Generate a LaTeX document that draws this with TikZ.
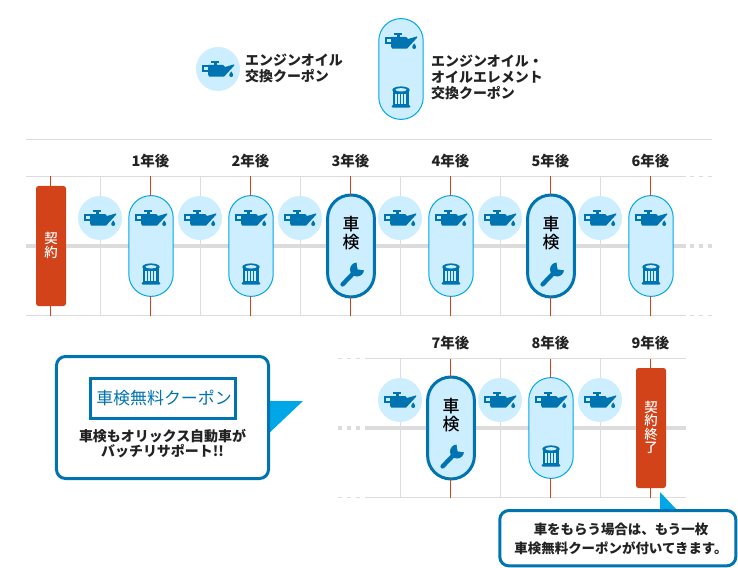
\documentclass[tikz,border=0pt]{standalone}
\usepackage{fontspec}
\setmainfont{Noto Sans CJK JP}
\newfontfamily\medfont{Noto Sans CJK JP Medium}
\definecolor{dkblue}{HTML}{0073B1}
\definecolor{ltblue}{HTML}{CCEEFF}
\definecolor{cyanb}{HTML}{00A7E8}
\definecolor{redb}{HTML}{D2431A}
\definecolor{grayl}{HTML}{DCDCDC}
\definecolor{inkc}{HTML}{222222}
\tikzset{
  gridline/.style={draw=grayl,line width=1bp},
  barline/.style={draw=grayl,line width=3.6bp},
  redline/.style={draw=redb,line width=1bp},
  oilcircle/.style={circle,fill=ltblue,minimum size=44bp,inner sep=0pt,outer sep=0pt},
  capsule/.style={rectangle,draw=cyanb,fill=ltblue,line width=1bp,minimum width=44.4bp,minimum height=100.8bp,rounded corners=22.2bp,inner sep=0pt,outer sep=0pt},
  inspect/.style={rectangle,draw=dkblue,fill=ltblue,line width=3bp,minimum width=46.8bp,minimum height=102bp,rounded corners=23.4bp,inner sep=0pt,outer sep=0pt},
  redbox/.style={rectangle,fill=redb,rounded corners=2.5bp,minimum width=30bp,minimum height=120bp,inner sep=0pt,outer sep=0pt},
  yearlabel/.style={text=inkc,font=\fontsize{14.5}{16}\selectfont\bfseries,inner sep=0pt},
  legendtext/.style={text=inkc,font=\fontsize{14}{16}\selectfont\bfseries,inner sep=0pt,align=left,anchor=west},
  calltext/.style={text=inkc,font=\fontsize{14}{15.4}\selectfont\bfseries,inner sep=0pt,align=center},
  noticetext/.style={text=inkc,font=\fontsize{13.5}{19}\selectfont\bfseries,inner sep=0pt},
  callout/.style={rectangle,draw=dkblue,fill=white,line width=3bp,rounded corners=9bp,inner sep=0pt,outer sep=0pt},
  inspecttext/.style={text=black,font=\fontsize{17}{19}\medfont,inner sep=0pt},
  whitetext/.style={text=white,font=\fontsize{13.5}{13.6}\medfont,inner sep=0pt},
  pics/oilcan/.style={code={
    \fill[dkblue] (-16,-3.8) rectangle (-9,2.6);
    \fill[ltblue] (-13.8,-1.6) rectangle (-10,0.6);
    \fill[dkblue] (-4.2,-7) rectangle (-1,-3);
    \fill[dkblue] (-7.3,-8.3) rectangle (1,-6.2);
    \fill[dkblue] (-10,-4) -- (5,-4) -- (7,-2) -- (16,-4.6) -- (16,-3.2) -- (6,7.7) -- (-8.8,7.7) -- (-10,5.5) -- cycle;
    \fill[dkblue] (13.2,2.4) .. controls (13.8,3.8) and (15.2,4.6) .. (15.2,6) .. controls (15.2,8.6) and (11.2,8.6) .. (11.2,6) .. controls (11.2,4.6) and (12.6,3.8) .. (13.2,2.4) -- cycle;
  }},
  pics/oilfilter/.style={code={
    \fill[dkblue] (-7.6,-7) rectangle (7.6,8);
    \foreach \s in {-5.6,-2.6,0.4,3.4}{\fill[ltblue] (\s,-3) rectangle (\s+1.7,7.4);}
    \fill[dkblue] (0,-7) ellipse [x radius=8.7,y radius=3.6];
    \fill[ltblue] (0,-7.2) ellipse [x radius=5.6,y radius=1.7];
    \fill[dkblue,rounded corners=1.2bp] (-9.4,8) rectangle (9.4,10.6);
  }},
  pics/spanner/.style={code={
    \draw[dkblue,line width=4.4bp,line cap=round] (-8.4,10.4) -- (3.5,-2);
    \fill[dkblue] (6,-4.5) circle [radius=7];
    \fill[ltblue] (6.6,-4.6) -- (5.4,-13) -- (15,-13) -- (15,-3.6) -- cycle;
  }}
}
\begin{document}
\begin{tikzpicture}[x=1bp,y=-1bp]
\useasboundingbox (0,0) rectangle (738,568);
% legend
\node[oilcircle] (legcirc) at (218,69) {};
\pic at (218,69) {oilcan};
\node[legendtext] (legtext1) at (245,68) {エンジンオイル\\交換クーポン};
\node[capsule] (legcap) at (401,69) {};
\pic at (401,41) {oilcan};
\pic at (401,97) {oilfilter};
\node[legendtext] (legtext2) at (431,77) {エンジンオイル・\\オイルエレメント\\交換クーポン};
% row 1 grid
\draw[gridline] (26,139.5) -- (712,139.5);
\foreach \y in {176.5,315.5}{
  \draw[gridline] (26,\y) -- (686,\y);
  \foreach \a in {690,699,708}{\draw[gridline] (\a,\y) -- (\a+4,\y);}
}
\draw[barline] (26,246) -- (686,246);
\foreach \a in {690,699,708}{\draw[barline] (\a,246) -- (\a+4,246);}
\foreach \x in {100.5,200.5,300.5,400.5,500.5,600.5}{\draw[gridline] (\x,176.5) -- (\x,315.5);}
% row 2 grid
\foreach \y in {358.5,497.5}{
  \draw[gridline] (365,\y) -- (686,\y);
  \foreach \a in {338,347,356}{\draw[gridline] (\a,\y) -- (\a+4,\y);}
}
\draw[barline] (365,428) -- (686,428);
\foreach \a in {338,347,356}{\draw[barline] (\a,428) -- (\a+4,428);}
\foreach \x in {400.5,500.5,600.5}{\draw[gridline] (\x,358.5) -- (\x,497.5);}
% row 1 circles
\foreach \n/\x in {a/100,b/200,c/300,d/400,e/500,f/600}{
  \node[oilcircle] (circ\n) at (\x,218) {};
  \pic at (\x,218) {oilcan};
}
% row 2 circles
\foreach \n/\x in {g/400,h/500,i/600}{
  \node[oilcircle] (circ\n) at (\x,400) {};
  \pic at (\x,400) {oilcan};
}
% year labels
\foreach \n/\x/\t in {1/150.5/1年後,2/250.5/2年後,3/350.5/3年後,4/450.5/4年後,5/550.5/5年後,6/650.5/6年後}{
  \node[yearlabel] (year\n) at (\x,161) {\t};
}
\foreach \n/\x/\t in {7/450.5/7年後,8/550.5/8年後,9/650.5/9年後}{
  \node[yearlabel] (year\n) at (\x,343) {\t};
}
% contract
\node[redbox] (start) at (51,246) {};
\node[whitetext,align=center] (starttext) at (51,245.5) {契\\約};
\node[redbox] (finish) at (651,428) {};
\node[whitetext,align=center] (finishtext) at (651,427.5) {契\\約\\終\\了};
\coordinate (t0) at (50.5,176.5); \coordinate (b0) at (50.5,315.5);
\draw[redline] (t0) -- (t0 |- start.north);
\draw[redline] (b0) -- (b0 |- start.south);
\coordinate (t9) at (650.5,358.5); \coordinate (b9) at (650.5,497.5);
\draw[redline] (t9) -- (t9 |- finish.north);
\draw[redline] (b9) -- (b9 |- finish.south);
% row 1 capsules
\foreach \n/\x/\l in {1/150.5/151,2/250.5/251,4/450.5/451,6/650.5/651}{
  \node[capsule] (cap\n) at (\l,246) {};
  \pic at (\l,218) {oilcan};
  \pic at (\l,274) {oilfilter};
  \coordinate (t\n) at (\x,176.5); \coordinate (b\n) at (\x,315.5);
  \draw[redline] (t\n) -- (t\n |- cap\n.north);
  \draw[redline] (b\n) -- (b\n |- cap\n.south);
}
\foreach \n/\x/\l in {3/350.5/351,5/550.5/551}{
  \node[inspect] (cap\n) at (\l,246) {};
  \node[inspecttext] (capt\n) at (\l,224) {車};
  \node[inspecttext] (capu\n) at (\l,242.5) {検};
  \pic at (\l,274) {spanner};
  \coordinate (t\n) at (\x,176.5); \coordinate (b\n) at (\x,315.5);
  \draw[redline] (t\n) -- (t\n |- cap\n.north);
  \draw[redline] (b\n) -- (b\n |- cap\n.south);
}
% row 2 capsules
\node[inspect] (cap7) at (451,428) {};
\node[inspecttext] (capt7) at (451,406) {車};
\node[inspecttext] (capu7) at (451,424.5) {検};
\pic at (451,456) {spanner};
\coordinate (t7) at (450.5,358.5); \coordinate (b7) at (450.5,497.5);
\draw[redline] (t7) -- (t7 |- cap7.north);
\draw[redline] (b7) -- (b7 |- cap7.south);
\node[capsule] (cap8) at (551,428) {};
\pic at (551,400) {oilcan};
\pic at (551,456) {oilfilter};
\coordinate (t8) at (550.5,358.5); \coordinate (b8) at (550.5,497.5);
\draw[redline] (t8) -- (t8 |- cap8.north);
\draw[redline] (b8) -- (b8 |- cap8.south);
% left callout
\fill[cyanb] (265,401) -- (303,401) -- (265,437) -- cycle;
\node[callout,minimum width=212bp,minimum height=122bp] (note) at (162.5,417.5) {};
\node[rectangle,draw=dkblue,line width=2.5bp,minimum width=145bp,minimum height=40bp,inner sep=0pt,outer sep=0pt] (logo) at (163,398.5) {};
\node[text=dkblue,font=\fontsize{17}{17}\selectfont,inner sep=0pt] (logotext) at (164,398.5) {車検無料クーポン};
\node[calltext] (notetext) at (162.5,443.5) {車検もオリックス自動車が\\バッチリサポート!!};
% bottom callout
\fill[cyanb] (660,492) -- (676,509) -- (660,511) -- cycle;
\node[callout,minimum width=236bp,minimum height=55.3bp] (notice) at (617.8,538.2) {};
\node[noticetext] (noticeone) at (621,529) {車をもらう場合は、もう一枚};
\node[noticetext] (noticetwo) at (621,548) {車検無料クーポンが付いてきます。};
\end{tikzpicture}
\end{document}
